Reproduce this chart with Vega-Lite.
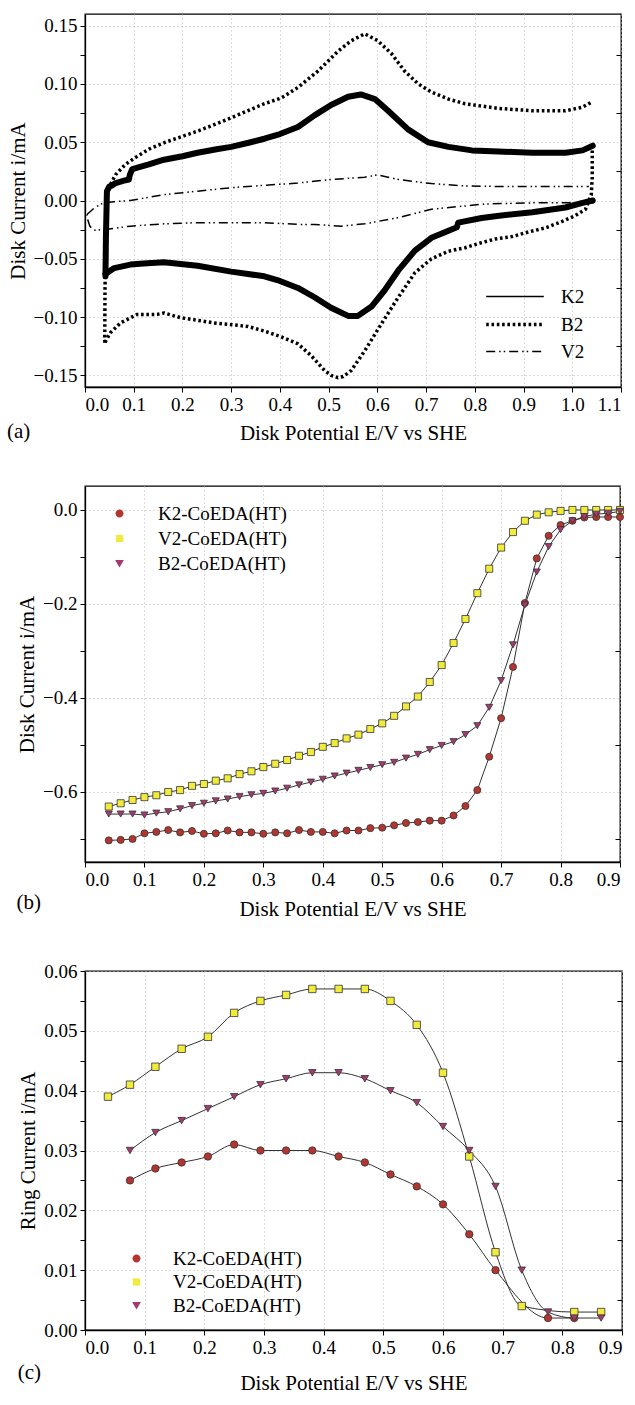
{
"$schema": "https://vega.github.io/schema/vega-lite/v6.json",
"padding": {"left": 6, "top": 13, "right": 5, "bottom": 0},
"columns": 1,
"spacing": 41,
"config": {
  "font": "Liberation Serif",
  "view": {"stroke": "black", "strokeWidth": 1.3},
  "axis": {"labelFont": "Liberation Serif", "labelFontSize": 19, "labelColor": "black", "labelPadding": 3,
           "titleFont": "Liberation Serif", "titleFontSize": 21, "titleFontWeight": "normal", "titleColor": "black", "titlePadding": 5,
           "domainColor": "black", "domainWidth": 1.3, "tickColor": "black", "tickSize": 5, "tickWidth": 1,
           "gridColor": "#b8b8b8", "gridDash": [1, 3], "gridWidth": 1},
  "legend": {"labelFont": "Liberation Serif", "labelFontSize": 19, "labelColor": "black"},
  "title": {"font": "Liberation Serif", "fontSize": 21, "fontWeight": "normal", "color": "black"}
},
"concat": [
{
  "width": 536, "height": 373,
  "title": {"text": "(a)", "orient": "bottom", "anchor": "start", "frame": "bounds", "dy": -26},
  "data": {"values": [
    {"s":"K2","g":"u","x":0.042,"y":-0.065},{"s":"K2","g":"u","x":0.043,"y":-0.03},{"s":"K2","g":"u","x":0.045,"y":0.008},{"s":"K2","g":"u","x":0.05,"y":0.012},{"s":"K2","g":"u","x":0.056,"y":0.013},{"s":"K2","g":"u","x":0.063,"y":0.015},{"s":"K2","g":"u","x":0.08,"y":0.017},{"s":"K2","g":"u","x":0.09,"y":0.018},{"s":"K2","g":"u","x":0.092,"y":0.022},{"s":"K2","g":"u","x":0.097,"y":0.027},{"s":"K2","g":"u","x":0.131,"y":0.031},{"s":"K2","g":"u","x":0.162,"y":0.035},{"s":"K2","g":"u","x":0.2,"y":0.038},{"s":"K2","g":"u","x":0.231,"y":0.041},{"s":"K2","g":"u","x":0.27,"y":0.044},{"s":"K2","g":"u","x":0.3,"y":0.046},{"s":"K2","g":"u","x":0.34,"y":0.05},{"s":"K2","g":"u","x":0.368,"y":0.053},{"s":"K2","g":"u","x":0.4,"y":0.057},{"s":"K2","g":"u","x":0.437,"y":0.063},{"s":"K2","g":"u","x":0.471,"y":0.073},{"s":"K2","g":"u","x":0.505,"y":0.082},{"s":"K2","g":"u","x":0.54,"y":0.089},{"s":"K2","g":"u","x":0.566,"y":0.091},{"s":"K2","g":"u","x":0.595,"y":0.087},{"s":"K2","g":"u","x":0.622,"y":0.077},{"s":"K2","g":"u","x":0.663,"y":0.061},{"s":"K2","g":"u","x":0.704,"y":0.05},{"s":"K2","g":"u","x":0.746,"y":0.046},{"s":"K2","g":"u","x":0.794,"y":0.043},{"s":"K2","g":"u","x":0.849,"y":0.042},{"s":"K2","g":"u","x":0.918,"y":0.041},{"s":"K2","g":"u","x":0.986,"y":0.041},{"s":"K2","g":"u","x":1.021,"y":0.043},{"s":"K2","g":"u","x":1.042,"y":0.047},
    {"s":"K2","g":"d","x":1.042,"y":0.0},{"s":"K2","g":"d","x":1.021,"y":-0.002},{"s":"K2","g":"d","x":0.986,"y":-0.006},{"s":"K2","g":"d","x":0.918,"y":-0.01},{"s":"K2","g":"d","x":0.85,"y":-0.013},{"s":"K2","g":"d","x":0.814,"y":-0.015},{"s":"K2","g":"d","x":0.766,"y":-0.019},{"s":"K2","g":"d","x":0.763,"y":-0.023},{"s":"K2","g":"d","x":0.746,"y":-0.026},{"s":"K2","g":"d","x":0.711,"y":-0.032},{"s":"K2","g":"d","x":0.677,"y":-0.043},{"s":"K2","g":"d","x":0.643,"y":-0.06},{"s":"K2","g":"d","x":0.615,"y":-0.077},{"s":"K2","g":"d","x":0.588,"y":-0.091},{"s":"K2","g":"d","x":0.56,"y":-0.099},{"s":"K2","g":"d","x":0.54,"y":-0.099},{"s":"K2","g":"d","x":0.505,"y":-0.092},{"s":"K2","g":"d","x":0.471,"y":-0.083},{"s":"K2","g":"d","x":0.437,"y":-0.075},{"s":"K2","g":"d","x":0.4,"y":-0.069},{"s":"K2","g":"d","x":0.368,"y":-0.065},{"s":"K2","g":"d","x":0.3,"y":-0.061},{"s":"K2","g":"d","x":0.231,"y":-0.056},{"s":"K2","g":"d","x":0.162,"y":-0.053},{"s":"K2","g":"d","x":0.12,"y":-0.054},{"s":"K2","g":"d","x":0.093,"y":-0.055},{"s":"K2","g":"d","x":0.06,"y":-0.058},{"s":"K2","g":"d","x":0.042,"y":-0.063},
    {"s":"B2","g":"u","x":0.0405,"y":-0.122},{"s":"B2","g":"u","x":0.041,"y":-0.08},{"s":"B2","g":"u","x":0.042,"y":-0.04},{"s":"B2","g":"u","x":0.043,"y":0.0},{"s":"B2","g":"u","x":0.049,"y":0.011},{"s":"B2","g":"u","x":0.0625,"y":0.022},{"s":"B2","g":"u","x":0.083,"y":0.031},{"s":"B2","g":"u","x":0.104,"y":0.037},{"s":"B2","g":"u","x":0.131,"y":0.044},{"s":"B2","g":"u","x":0.165,"y":0.05},{"s":"B2","g":"u","x":0.2,"y":0.055},{"s":"B2","g":"u","x":0.234,"y":0.06},{"s":"B2","g":"u","x":0.265,"y":0.065},{"s":"B2","g":"u","x":0.3,"y":0.071},{"s":"B2","g":"u","x":0.368,"y":0.083},{"s":"B2","g":"u","x":0.403,"y":0.088},{"s":"B2","g":"u","x":0.437,"y":0.097},{"s":"B2","g":"u","x":0.478,"y":0.111},{"s":"B2","g":"u","x":0.519,"y":0.128},{"s":"B2","g":"u","x":0.546,"y":0.137},{"s":"B2","g":"u","x":0.574,"y":0.143},{"s":"B2","g":"u","x":0.601,"y":0.137},{"s":"B2","g":"u","x":0.629,"y":0.126},{"s":"B2","g":"u","x":0.656,"y":0.111},{"s":"B2","g":"u","x":0.684,"y":0.1},{"s":"B2","g":"u","x":0.711,"y":0.093},{"s":"B2","g":"u","x":0.746,"y":0.087},{"s":"B2","g":"u","x":0.78,"y":0.083},{"s":"B2","g":"u","x":0.849,"y":0.079},{"s":"B2","g":"u","x":0.918,"y":0.077},{"s":"B2","g":"u","x":0.986,"y":0.077},{"s":"B2","g":"u","x":1.021,"y":0.08},{"s":"B2","g":"u","x":1.042,"y":0.085},
    {"s":"B2","g":"d","x":1.041,"y":0.043},{"s":"B2","g":"d","x":1.041,"y":0.02},{"s":"B2","g":"d","x":1.039,"y":0.005},{"s":"B2","g":"d","x":1.027,"y":-0.0075},{"s":"B2","g":"d","x":1.006,"y":-0.013},{"s":"B2","g":"d","x":0.979,"y":-0.018},{"s":"B2","g":"d","x":0.945,"y":-0.0235},{"s":"B2","g":"d","x":0.91,"y":-0.027},{"s":"B2","g":"d","x":0.876,"y":-0.031},{"s":"B2","g":"d","x":0.842,"y":-0.033},{"s":"B2","g":"d","x":0.807,"y":-0.037},{"s":"B2","g":"d","x":0.78,"y":-0.0405},{"s":"B2","g":"d","x":0.746,"y":-0.0435},{"s":"B2","g":"d","x":0.711,"y":-0.05},{"s":"B2","g":"d","x":0.677,"y":-0.062},{"s":"B2","g":"d","x":0.643,"y":-0.083},{"s":"B2","g":"d","x":0.608,"y":-0.106},{"s":"B2","g":"d","x":0.574,"y":-0.129},{"s":"B2","g":"d","x":0.546,"y":-0.146},{"s":"B2","g":"d","x":0.53,"y":-0.151},{"s":"B2","g":"d","x":0.519,"y":-0.152},{"s":"B2","g":"d","x":0.505,"y":-0.15},{"s":"B2","g":"d","x":0.492,"y":-0.146},{"s":"B2","g":"d","x":0.464,"y":-0.133},{"s":"B2","g":"d","x":0.437,"y":-0.123},{"s":"B2","g":"d","x":0.403,"y":-0.117},{"s":"B2","g":"d","x":0.368,"y":-0.112},{"s":"B2","g":"d","x":0.334,"y":-0.108},{"s":"B2","g":"d","x":0.265,"y":-0.105},{"s":"B2","g":"d","x":0.196,"y":-0.1005},{"s":"B2","g":"d","x":0.162,"y":-0.0965},{"s":"B2","g":"d","x":0.148,"y":-0.0977},{"s":"B2","g":"d","x":0.107,"y":-0.0977},{"s":"B2","g":"d","x":0.073,"y":-0.105},{"s":"B2","g":"d","x":0.052,"y":-0.1135},{"s":"B2","g":"d","x":0.0405,"y":-0.122},
    {"s":"V2","g":"u","x":0.004,"y":-0.012},{"s":"V2","g":"u","x":0.02,"y":-0.006},{"s":"V2","g":"u","x":0.038,"y":-0.002},{"s":"V2","g":"u","x":0.06,"y":-0.001},{"s":"V2","g":"u","x":0.093,"y":0.0},{"s":"V2","g":"u","x":0.162,"y":0.005},{"s":"V2","g":"u","x":0.231,"y":0.008},{"s":"V2","g":"u","x":0.3,"y":0.011},{"s":"V2","g":"u","x":0.368,"y":0.013},{"s":"V2","g":"u","x":0.437,"y":0.015},{"s":"V2","g":"u","x":0.505,"y":0.018},{"s":"V2","g":"u","x":0.574,"y":0.02},{"s":"V2","g":"u","x":0.601,"y":0.022},{"s":"V2","g":"u","x":0.643,"y":0.018},{"s":"V2","g":"u","x":0.711,"y":0.0145},{"s":"V2","g":"u","x":0.78,"y":0.0125},{"s":"V2","g":"u","x":0.849,"y":0.012},{"s":"V2","g":"u","x":0.986,"y":0.012},{"s":"V2","g":"u","x":1.034,"y":0.012},
    {"s":"V2","g":"d","x":1.044,"y":-0.002},{"s":"V2","g":"d","x":0.918,"y":-0.002},{"s":"V2","g":"d","x":0.821,"y":-0.003},{"s":"V2","g":"d","x":0.711,"y":-0.0075},{"s":"V2","g":"d","x":0.643,"y":-0.0147},{"s":"V2","g":"d","x":0.574,"y":-0.02},{"s":"V2","g":"d","x":0.526,"y":-0.022},{"s":"V2","g":"d","x":0.471,"y":-0.0205},{"s":"V2","g":"d","x":0.437,"y":-0.0205},{"s":"V2","g":"d","x":0.368,"y":-0.019},{"s":"V2","g":"d","x":0.3,"y":-0.019},{"s":"V2","g":"d","x":0.231,"y":-0.019},{"s":"V2","g":"d","x":0.162,"y":-0.02},{"s":"V2","g":"d","x":0.093,"y":-0.022},{"s":"V2","g":"d","x":0.045,"y":-0.0247},{"s":"V2","g":"d","x":0.018,"y":-0.0255},{"s":"V2","g":"d","x":0.01,"y":-0.022},{"s":"V2","g":"d","x":0.006,"y":-0.017},{"s":"V2","g":"d","x":0.004,"y":-0.012}
  ]},
  "layer": [
    {"mark": {"type": "line", "color": "black", "strokeJoin": "round"},
     "encoding": {
       "x": {"field": "x", "type": "quantitative", "scale": {"domain": [0, 1.1], "nice": false, "zero": false},
             "axis": {"values": [0,0.1,0.2,0.3,0.4,0.5,0.6,0.7,0.8,0.9,1.0,1.1], "format": ".1f", "title": "Disk Potential E/V vs SHE", "titlePadding": 8, "grid": true}},
       "y": {"field": "y", "type": "quantitative", "scale": {"domain": [-0.16, 0.16], "nice": false, "zero": false},
             "axis": {"values": [-0.15,-0.125,-0.1,-0.075,-0.05,-0.025,0,0.025,0.05,0.075,0.1,0.125,0.15],
                      "labelExpr": "round(datum.value*1000) % 50 == 0 ? format(datum.value, '.2f') : ''",
                      "title": "Disk Current i/mA", "grid": true,
                      "gridOpacity": {"condition": {"test": "round(datum.value*1000) % 50 == 0", "value": 1}, "value": 0}}},
       "detail": {"field": "g"},
       "order": {"value": null},
       "strokeDash": {"field": "s", "type": "nominal",
                      "scale": {"domain": ["K2","B2","V2"], "range": [[1,0],[2.6,2.7],[9,4,1.5,3,1.5,4]]},
                      "legend": {"title": null, "orient": "none", "legendX": 420, "legendY": 273, "padding": 0,
                                 "symbolType": "M-3.6,0H3.6", "symbolSize": 256, "labelOffset": 36, "rowPadding": 7.5,
                                 "symbolStrokeColor": "black"}},
       "strokeWidth": {"field": "s", "type": "nominal", "scale": {"type": "ordinal", "domain": ["K2","B2","V2"], "range": [1.4, 3.5, 1.5]}, "legend": null}
     }},
    {"transform": [{"filter": "datum.s == 'K2'"}],
     "mark": {"type": "line", "color": "black", "strokeWidth": 6, "strokeCap": "round", "strokeJoin": "round"},
     "encoding": {
       "x": {"field": "x", "type": "quantitative", "scale": {"domain": [0, 1.1], "nice": false, "zero": false}},
       "y": {"field": "y", "type": "quantitative", "scale": {"domain": [-0.16, 0.16], "nice": false, "zero": false}, "axis": null},
       "detail": {"field": "g"},
       "order": {"value": null}
     }},
    {"mark": {"type": "point", "opacity": 0},
     "encoding": {
       "y": {"field": "y", "type": "quantitative", "scale": {"domain": [-0.16, 0.16], "nice": false, "zero": false},
             "axis": {"orient": "right", "title": null, "labels": false, "domain": false, "grid": false,
                      "values": [-0.125,-0.075,-0.025,0.025,0.075,0.125], "tickSize": -5}}
     }}
  ],
  "resolve": {"axis": {"y": "independent"}}
},
{
  "width": 535, "height": 376,
  "title": {"text": "(b)", "orient": "bottom", "anchor": "start", "frame": "bounds", "dy": -31},
  "data": {"values": [
    {"x":0.04,"K2":-0.704,"V2":-0.632,"B2":-0.648},{"x":0.06,"K2":-0.703,"V2":-0.625,"B2":-0.648},{"x":0.08,"K2":-0.701,"V2":-0.618,"B2":-0.648},{"x":0.10,"K2":-0.689,"V2":-0.612,"B2":-0.650},{"x":0.12,"K2":-0.686,"V2":-0.608,"B2":-0.646},{"x":0.14,"K2":-0.682,"V2":-0.601,"B2":-0.643},{"x":0.16,"K2":-0.687,"V2":-0.597,"B2":-0.637},{"x":0.18,"K2":-0.684,"V2":-0.588,"B2":-0.630},{"x":0.20,"K2":-0.690,"V2":-0.584,"B2":-0.625},{"x":0.22,"K2":-0.689,"V2":-0.577,"B2":-0.620},{"x":0.24,"K2":-0.683,"V2":-0.572,"B2":-0.616},{"x":0.26,"K2":-0.687,"V2":-0.563,"B2":-0.611},{"x":0.28,"K2":-0.687,"V2":-0.557,"B2":-0.607},{"x":0.30,"K2":-0.690,"V2":-0.548,"B2":-0.604},{"x":0.32,"K2":-0.687,"V2":-0.541,"B2":-0.599},{"x":0.34,"K2":-0.689,"V2":-0.533,"B2":-0.593},{"x":0.36,"K2":-0.682,"V2":-0.524,"B2":-0.586},{"x":0.38,"K2":-0.686,"V2":-0.516,"B2":-0.580},{"x":0.40,"K2":-0.686,"V2":-0.505,"B2":-0.574},{"x":0.42,"K2":-0.689,"V2":-0.497,"B2":-0.567},{"x":0.44,"K2":-0.683,"V2":-0.487,"B2":-0.561},{"x":0.46,"K2":-0.683,"V2":-0.479,"B2":-0.555},{"x":0.48,"K2":-0.678,"V2":-0.467,"B2":-0.549},{"x":0.50,"K2":-0.677,"V2":-0.455,"B2":-0.543},{"x":0.52,"K2":-0.672,"V2":-0.439,"B2":-0.538},{"x":0.54,"K2":-0.667,"V2":-0.419,"B2":-0.529},{"x":0.56,"K2":-0.665,"V2":-0.398,"B2":-0.521},{"x":0.58,"K2":-0.662,"V2":-0.367,"B2":-0.511},{"x":0.60,"K2":-0.662,"V2":-0.331,"B2":-0.502},{"x":0.62,"K2":-0.651,"V2":-0.284,"B2":-0.494},{"x":0.64,"K2":-0.631,"V2":-0.233,"B2":-0.479},{"x":0.66,"K2":-0.597,"V2":-0.178,"B2":-0.460},{"x":0.68,"K2":-0.526,"V2":-0.126,"B2":-0.421},{"x":0.70,"K2":-0.444,"V2":-0.081,"B2":-0.364},{"x":0.72,"K2":-0.335,"V2":-0.048,"B2":-0.288},{"x":0.74,"K2":-0.199,"V2":-0.024,"B2":-0.203},{"x":0.76,"K2":-0.104,"V2":-0.011,"B2":-0.133},{"x":0.78,"K2":-0.056,"V2":-0.006,"B2":-0.079},{"x":0.80,"K2":-0.033,"V2":-0.003,"B2":-0.043},{"x":0.82,"K2":-0.024,"V2":-0.001,"B2":-0.024},{"x":0.84,"K2":-0.017,"V2":-0.001,"B2":-0.015},{"x":0.86,"K2":-0.016,"V2":-0.001,"B2":-0.010},{"x":0.88,"K2":-0.016,"V2":-0.001,"B2":-0.008},{"x":0.90,"K2":-0.016,"V2":-0.001,"B2":-0.004}
  ]},
  "transform": [{"fold": ["K2", "V2", "B2"], "as": ["s", "v"]}],
  "layer": [
    {"mark": {"type": "line", "color": "#333333", "strokeWidth": 1},
     "encoding": {
       "x": {"field": "x", "type": "quantitative", "scale": {"domain": [0, 0.9], "nice": false, "zero": false},
             "axis": {"values": [0,0.1,0.2,0.3,0.4,0.5,0.6,0.7,0.8,0.9], "format": ".1f", "title": "Disk Potential E/V vs SHE", "titlePadding": 9, "grid": true}},
       "y": {"field": "v", "type": "quantitative", "scale": {"domain": [-0.75, 0.05], "nice": false, "zero": false},
             "axis": {"values": [-0.7,-0.6,-0.5,-0.4,-0.3,-0.2,-0.1,0],
                      "labelExpr": "round(datum.value*10) % 2 == 0 ? format(datum.value, '.1f') : ''",
                      "title": "Disk Current i/mA", "grid": true,
                      "gridOpacity": {"condition": {"test": "round(datum.value*10) % 2 == 0", "value": 1}, "value": 0}}},
       "strokeOpacity": {"field": "s", "type": "nominal", "scale": {"domain": ["K2","V2","B2"], "range": [1, 1]},
                         "legend": {"title": null, "orient": "none", "legendX": 25, "legendY": 18, "padding": 0, "symbolType": "M-3,0H3", "symbolSize": 256,
                                    "symbolStrokeColor": "#333333", "symbolStrokeWidth": 1, "labelOffset": 29, "rowPadding": 5, "labelOpacity": 0,
                                    "labelExpr": "datum.label + '-CoEDA(HT)'"}}
     }},
    {"mark": {"type": "point", "filled": true, "opacity": 1, "size": 50, "stroke": "#333333", "strokeWidth": 0.8},
     "encoding": {
       "x": {"field": "x", "type": "quantitative", "scale": {"domain": [0, 0.9], "nice": false, "zero": false}},
       "y": {"field": "v", "type": "quantitative", "scale": {"domain": [-0.75, 0.05], "nice": false, "zero": false}, "axis": null},
       "fill": {"field": "s", "type": "nominal", "scale": {"domain": ["K2","V2","B2"], "range": ["#b3352f", "#f1ec3c", "#a53a70"]}, "legend": null},
       "shape": {"field": "s", "type": "nominal", "scale": {"domain": ["K2","V2","B2"], "range": ["circle", "square", "triangle-down"]}, "legend": null}
     }},
    {"mark": {"type": "point", "filled": false, "opacity": 0, "stroke": "#333333", "strokeWidth": 1},
     "encoding": {
       "x": {"field": "x", "type": "quantitative", "scale": {"domain": [0, 0.9], "nice": false, "zero": false}},
       "y": {"field": "v", "type": "quantitative", "scale": {"domain": [-0.75, 0.05], "nice": false, "zero": false},
             "axis": {"orient": "right", "title": null, "labels": false, "domain": false, "grid": false,
                      "values": [-0.7,-0.5,-0.3,-0.1], "tickSize": -5}},
       "fill": {"field": "s", "type": "nominal", "scale": {"domain": ["K2","V2","B2"], "range": ["#b3352f", "#f1ec3c", "#a53a70"]},
                "legend": {"title": null, "orient": "none", "legendX": 25, "legendY": 18, "padding": 0, "symbolSize": 256, "symbolOpacity": 1,
                           "symbolStrokeColor": "#333333", "symbolStrokeWidth": 1, "labelOffset": 29, "rowPadding": 5,
                           "labelExpr": "datum.label + '-CoEDA(HT)'"}},
       "shape": {"field": "s", "type": "nominal",
                 "scale": {"domain": ["K2","V2","B2"], "range": ["M0.5,0A0.5,0.5,0,1,1,-0.5,0A0.5,0.5,0,1,1,0.5,0Z", "M-0.45,-0.45H0.45V0.45H-0.45Z", "M-0.55,-0.45H0.55L0,0.5Z"]},
                 "legend": {"title": null, "orient": "none", "legendX": 25, "legendY": 18, "padding": 0, "symbolSize": 256, "symbolOpacity": 1,
                           "symbolStrokeColor": "#333333", "symbolStrokeWidth": 1, "labelOffset": 29, "rowPadding": 5,
                           "labelExpr": "datum.label + '-CoEDA(HT)'"}}
     }}
  ],
  "resolve": {"axis": {"y": "independent"}, "scale": {"shape": "independent", "fill": "independent", "strokeOpacity": "independent"}}
},
{
  "width": 537, "height": 359,
  "title": {"text": "(c)", "orient": "bottom", "anchor": "start", "frame": "bounds", "dy": -35},
  "data": {"values": [
    {"x":0.0385,"s":"V2","v":0.039},
    {"x":0.0754,"s":"K2","v":0.025},{"x":0.0754,"s":"V2","v":0.041},{"x":0.0754,"s":"B2","v":0.030},
    {"x":0.118,"s":"K2","v":0.027},{"x":0.118,"s":"V2","v":0.044},{"x":0.118,"s":"B2","v":0.033},
    {"x":0.162,"s":"K2","v":0.028},{"x":0.162,"s":"V2","v":0.047},{"x":0.162,"s":"B2","v":0.035},
    {"x":0.206,"s":"K2","v":0.029},{"x":0.206,"s":"V2","v":0.049},{"x":0.206,"s":"B2","v":0.037},
    {"x":0.25,"s":"K2","v":0.031},{"x":0.25,"s":"V2","v":0.053},{"x":0.25,"s":"B2","v":0.039},
    {"x":0.294,"s":"K2","v":0.030},{"x":0.294,"s":"V2","v":0.055},{"x":0.294,"s":"B2","v":0.041},
    {"x":0.337,"s":"K2","v":0.030},{"x":0.337,"s":"V2","v":0.056},{"x":0.337,"s":"B2","v":0.042},
    {"x":0.381,"s":"K2","v":0.030},{"x":0.381,"s":"V2","v":0.057},{"x":0.381,"s":"B2","v":0.043},
    {"x":0.425,"s":"K2","v":0.029},{"x":0.425,"s":"V2","v":0.057},{"x":0.425,"s":"B2","v":0.043},
    {"x":0.469,"s":"K2","v":0.028},{"x":0.469,"s":"V2","v":0.057},{"x":0.469,"s":"B2","v":0.042},
    {"x":0.512,"s":"K2","v":0.026},{"x":0.512,"s":"V2","v":0.055},{"x":0.512,"s":"B2","v":0.040},
    {"x":0.556,"s":"K2","v":0.024},{"x":0.556,"s":"V2","v":0.051},{"x":0.556,"s":"B2","v":0.038},
    {"x":0.60,"s":"K2","v":0.021},{"x":0.60,"s":"V2","v":0.043},{"x":0.60,"s":"B2","v":0.034},
    {"x":0.644,"s":"K2","v":0.016},{"x":0.644,"s":"V2","v":0.029},{"x":0.644,"s":"B2","v":0.030},
    {"x":0.688,"s":"K2","v":0.010},{"x":0.688,"s":"V2","v":0.013},{"x":0.688,"s":"B2","v":0.024},
    {"x":0.732,"s":"V2","v":0.004},{"x":0.732,"s":"B2","v":0.010},
    {"x":0.776,"s":"K2","v":0.002},{"x":0.776,"s":"B2","v":0.003},
    {"x":0.82,"s":"K2","v":0.002},{"x":0.82,"s":"V2","v":0.003},{"x":0.82,"s":"B2","v":0.002},
    {"x":0.865,"s":"V2","v":0.003},{"x":0.865,"s":"B2","v":0.002}
  ]},
  "layer": [
    {"mark": {"type": "line", "color": "#333333", "strokeWidth": 1, "interpolate": "monotone"},
     "encoding": {
       "x": {"field": "x", "type": "quantitative", "scale": {"domain": [0, 0.9], "nice": false, "zero": false},
             "axis": {"values": [0,0.1,0.2,0.3,0.4,0.5,0.6,0.7,0.8,0.9], "format": ".1f", "title": "Disk Potential E/V vs SHE", "titlePadding": 15, "grid": true}},
       "y": {"field": "v", "type": "quantitative", "scale": {"domain": [0, 0.06], "nice": false},
             "axis": {"values": [0,0.005,0.01,0.015,0.02,0.025,0.03,0.035,0.04,0.045,0.05,0.055,0.06],
                      "labelExpr": "round(datum.value*1000) % 10 == 0 ? format(datum.value, '.2f') : ''",
                      "title": "Ring Current i/mA", "grid": true,
                      "gridOpacity": {"condition": {"test": "round(datum.value*1000) % 10 == 0", "value": 1}, "value": 0}}},
       "strokeOpacity": {"field": "s", "type": "nominal", "scale": {"domain": ["K2","V2","B2"], "range": [1, 1]},
                         "legend": {"title": null, "orient": "none", "legendX": 42, "legendY": 278, "padding": 0, "symbolType": "M-3,0H3", "symbolSize": 256,
                                    "symbolStrokeColor": "#333333", "symbolStrokeWidth": 1, "labelOffset": 27, "rowPadding": 3.5, "labelOpacity": 0,
                                    "labelExpr": "datum.label + '-CoEDA(HT)'"}}
     }},
    {"mark": {"type": "point", "filled": true, "opacity": 1, "size": 55, "stroke": "#333333", "strokeWidth": 0.8},
     "encoding": {
       "x": {"field": "x", "type": "quantitative", "scale": {"domain": [0, 0.9], "nice": false, "zero": false}},
       "y": {"field": "v", "type": "quantitative", "scale": {"domain": [0, 0.06], "nice": false}, "axis": null},
       "fill": {"field": "s", "type": "nominal", "scale": {"domain": ["K2","V2","B2"], "range": ["#b3352f", "#f1ec3c", "#a53a70"]}, "legend": null},
       "shape": {"field": "s", "type": "nominal", "scale": {"domain": ["K2","V2","B2"], "range": ["circle", "square", "triangle-down"]}, "legend": null}
     }},
    {"mark": {"type": "point", "filled": false, "opacity": 0, "stroke": "#333333", "strokeWidth": 1},
     "encoding": {
       "x": {"field": "x", "type": "quantitative", "scale": {"domain": [0, 0.9], "nice": false, "zero": false}},
       "y": {"field": "v", "type": "quantitative", "scale": {"domain": [0, 0.06], "nice": false},
             "axis": {"orient": "right", "title": null, "labels": false, "domain": false, "grid": false,
                      "values": [0.005,0.015,0.025,0.035,0.045,0.055], "tickSize": -5}},
       "fill": {"field": "s", "type": "nominal", "scale": {"domain": ["K2","V2","B2"], "range": ["#b3352f", "#f1ec3c", "#a53a70"]},
                "legend": {"title": null, "orient": "none", "legendX": 42, "legendY": 278, "padding": 0, "symbolSize": 256, "symbolOpacity": 1,
                           "symbolStrokeColor": "#333333", "symbolStrokeWidth": 1, "labelOffset": 27, "rowPadding": 3.5,
                           "labelExpr": "datum.label + '-CoEDA(HT)'"}},
       "shape": {"field": "s", "type": "nominal",
                 "scale": {"domain": ["K2","V2","B2"], "range": ["M0.5,0A0.5,0.5,0,1,1,-0.5,0A0.5,0.5,0,1,1,0.5,0Z", "M-0.45,-0.45H0.45V0.45H-0.45Z", "M-0.55,-0.45H0.55L0,0.5Z"]},
                 "legend": {"title": null, "orient": "none", "legendX": 42, "legendY": 278, "padding": 0, "symbolSize": 256, "symbolOpacity": 1,
                           "symbolStrokeColor": "#333333", "symbolStrokeWidth": 1, "labelOffset": 27, "rowPadding": 3.5,
                           "labelExpr": "datum.label + '-CoEDA(HT)'"}}
     }}
  ],
  "resolve": {"axis": {"y": "independent"}, "scale": {"shape": "independent", "fill": "independent", "strokeOpacity": "independent"}}
}
]
}
